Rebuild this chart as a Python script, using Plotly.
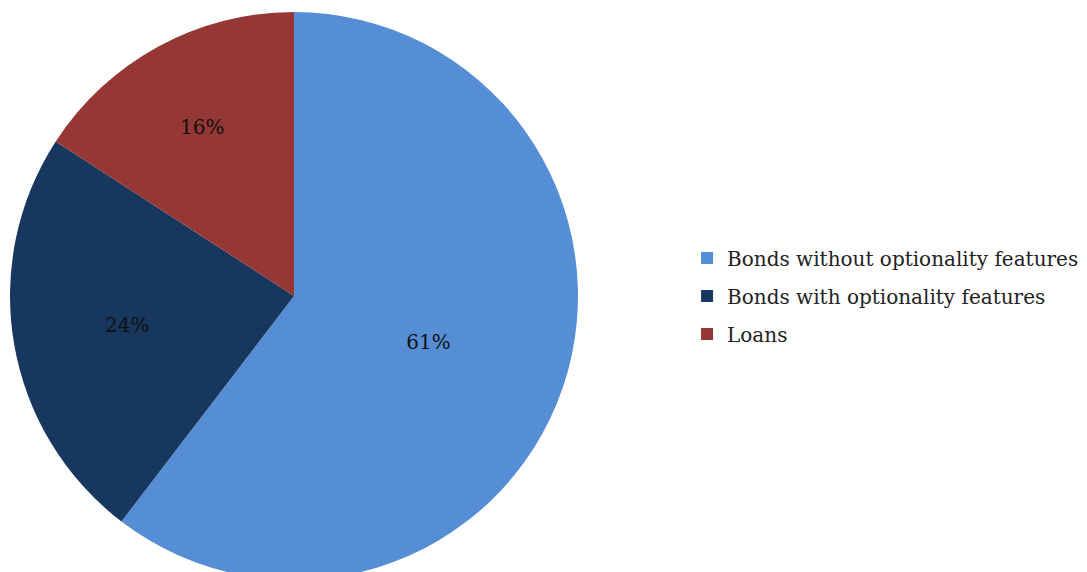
import plotly.graph_objects as go

categories = ["Bonds without optionality features", "Bonds with optionality features", "Loans"]
values = [61, 24, 16]
colors = ["#558ED5", "#17375E", "#953735"]
labels_text = [f"{v}%" for v in values]

fig = go.Figure()
fig.add_trace(go.Pie(
    labels=categories,
    values=values,
    text=labels_text,
    textinfo="text",
    textposition="inside",
    insidetextorientation="horizontal",
    insidetextfont=dict(family="DejaVu Serif", size=20, color="#111111"),
    marker=dict(colors=colors, line=dict(width=0)),
    sort=False,
    direction="clockwise",
    rotation=0,
    domain=dict(x=[2/1087, 570/1087], y=[0, 1]),
    hoverinfo="label+percent",
    showlegend=False,
))

# legend entries
for name, col in zip(categories, colors):
    fig.add_trace(go.Scatter(
        x=[None], y=[None], mode="markers", name=name,
        marker=dict(symbol="square", size=12, color=col),
        legendgroup=name, showlegend=True, hoverinfo="skip",
    ))

fig.update_layout(
    width=1087, height=572,
    margin=dict(l=0, r=0, t=4, b=0),
    paper_bgcolor="white",
    plot_bgcolor="white",
    xaxis=dict(visible=False, domain=[0.99, 1]),
    yaxis=dict(visible=False),
    showlegend=True,
    legend=dict(
        x=0.6247, y=0.5, xanchor="left", yanchor="middle",
        font=dict(family="DejaVu Serif", size=20, color="#222222"),
        itemwidth=30, tracegroupgap=9,
        bgcolor="rgba(0,0,0,0)",
    ),
)

fig.write_html("out.html")
